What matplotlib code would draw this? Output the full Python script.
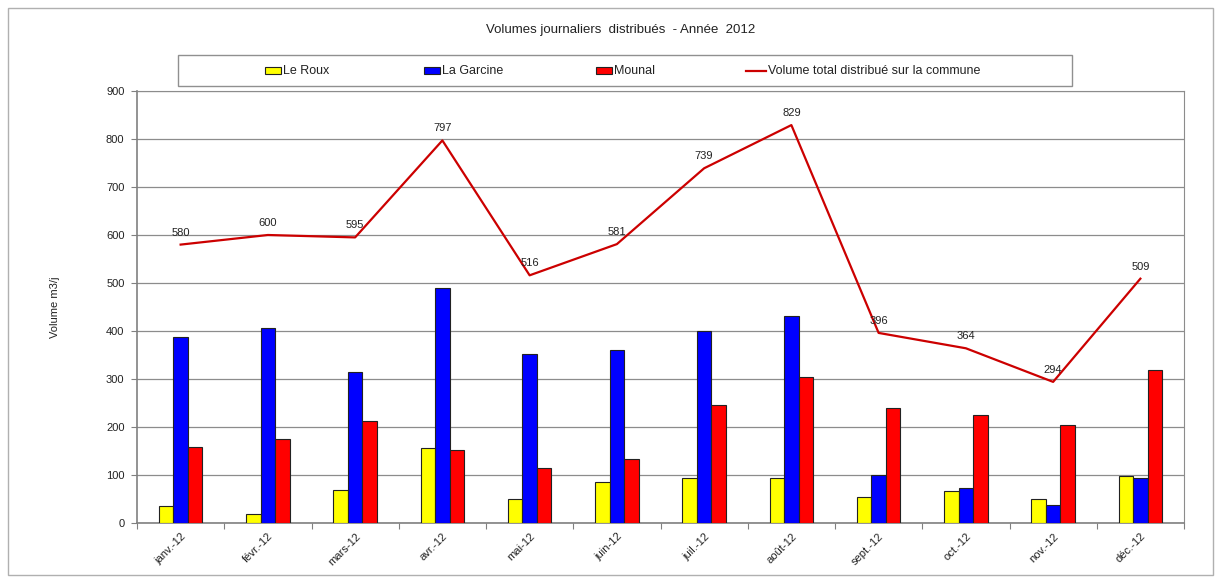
import numpy as np
import matplotlib
matplotlib.use("Agg")
import matplotlib.pyplot as plt
from matplotlib.patches import Rectangle
from matplotlib.lines import Line2D

plt.rcParams['font.family'] = ['Liberation Sans', 'DejaVu Sans']

mois = ['janv.-12', 'févr.-12', 'mars-12', 'avr.-12', 'mai-12', 'juin-12',
        'juil.-12', 'août-12', 'sept.-12', 'oct.-12', 'nov.-12', 'déc.-12']
le_roux = [36, 19, 68, 156, 49, 86, 93, 94, 55, 67, 51, 97]
la_garcine = [387, 406, 314, 489, 353, 361, 401, 431, 101, 72, 38, 93]
mounal = [158, 175, 213, 152, 114, 134, 245, 304, 240, 225, 205, 319]
total = [580, 600, 595, 797, 516, 581, 739, 829, 396, 364, 294, 509]

W, H = 1216, 577
fig = plt.figure(figsize=(W / 100, H / 100), dpi=100)

# cadre extérieur
fig.patches.append(Rectangle((8 / W, 1 - 575 / H), 1205 / W, 567 / H,
                             transform=fig.transFigure, fill=False,
                             edgecolor='#b0b0b0', lw=1))

ax = fig.add_axes([137 / W, 1 - 523 / H, 1047 / W, 432 / H])

x = np.arange(len(mois))
bw = 0.167
ax.bar(x - bw, le_roux, bw, color='#ffff00', edgecolor='#222222', lw=0.8, zorder=3)
ax.bar(x, la_garcine, bw, color='#0000ff', edgecolor='#222222', lw=0.8, zorder=3)
ax.bar(x + bw, mounal, bw, color='#ff0000', edgecolor='#222222', lw=0.8, zorder=3)
ax.plot(x, total, color='#cc0000', lw=1.6, zorder=4)

for xi, v in zip(x, total):
    ax.annotate(str(v), (xi, v), xytext=(0, 5), textcoords='offset points',
                ha='center', va='bottom', fontsize=8, color='#222222', zorder=5)

ax.set_xlim(-0.5, len(mois) - 0.5)
ax.set_ylim(0, 900)
ax.set_yticks(range(0, 901, 100))
ax.yaxis.grid(True, color='#8c8c8c', lw=0.9, zorder=0)
ax.set_axisbelow(True)

# ticks x entre les groupes, étiquettes au centre
ax.set_xticks(np.arange(-0.5, len(mois), 1))
ax.set_xticklabels([])
ax.set_xticks(x, minor=True)
ax.set_xticklabels(mois, minor=True, rotation=45, ha='right',
                   rotation_mode='anchor', fontsize=8, color='#222222')
ax.tick_params(axis='x', which='minor', length=0, pad=6)
ax.tick_params(axis='x', which='major', length=4, color='#808080')
ax.tick_params(axis='y', length=4, color='#808080', labelsize=8,
               labelcolor='#222222', pad=5)

for s in ['top', 'right']:
    ax.spines[s].set_color('#8c8c8c')
for s in ['left', 'bottom']:
    ax.spines[s].set_color('#808080')
    ax.spines[s].set_linewidth(1.2)

ax.set_ylabel('Volume m3/j', fontsize=8, color='#222222')
ax.yaxis.set_label_coords(-0.0735, 0.5)

fig.text(621 / W, 1 - 30 / H, 'Volumes journaliers  distribués  - Année  2012',
         ha='center', va='center', fontsize=9.5, color='#222222')

# légende
fig.patches.append(Rectangle((178 / W, 1 - 86 / H), 894 / W, 31 / H,
                             transform=fig.transFigure, fill=False,
                             edgecolor='#909090', lw=1))
ly = 1 - 70.5 / H
items = [('Le Roux', '#ffff00', 265), ('La Garcine', '#0000ff', 424),
         ('Mounal', '#ff0000', 596)]
for label, col, px in items:
    fig.patches.append(Rectangle((px / W, ly - 3.5 / H), 16 / W, 7 / H,
                                 transform=fig.transFigure, facecolor=col,
                                 edgecolor='#222222', lw=0.8))
    fig.text((px + 18) / W, ly, label, ha='left', va='center', fontsize=9,
             color='#222222')
fig.lines.append(Line2D([746 / W, 766 / W], [ly, ly], transform=fig.transFigure,
                        color='#cc0000', lw=1.6))
fig.text(768 / W, ly, 'Volume total distribué sur la commune', ha='left',
         va='center', fontsize=9, color='#222222')

fig.savefig('out.png', dpi=100)
